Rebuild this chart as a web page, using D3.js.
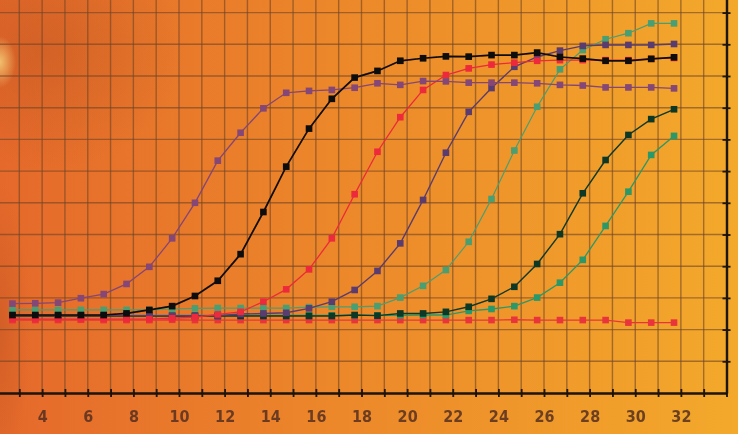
<!DOCTYPE html>
<html>
<head>
<meta charset="utf-8">
<script src="https://cdn.jsdelivr.net/npm/d3@7/dist/d3.min.js"></script>
<style>
  html, body { margin: 0; padding: 0; overflow: hidden; background: #ec862a; }
  .graph { width: 738px; height: 434px; }
</style>
</head>
<body>
<div class="graph"></div>
<script>
// cycle of each measured point (points sit a little left of the grid lines)
const cycles = [2.7, 3.7, 4.7, 5.7, 6.7, 7.7, 8.7, 9.7, 10.7, 11.7, 12.7, 13.7, 14.7, 15.7, 16.7,
  17.7, 18.7, 19.7, 20.7, 21.7, 22.7, 23.7, 24.7, 25.7, 26.7, 27.7, 28.7, 29.7, 30.7, 31.7]

// x tick labels
const xLabels = [4, 6, 8, 10, 12, 14, 16, 18, 20, 22, 24, 26, 28, 30, 32]

// fluorescence, in grid units
const flatRed = [2.30, 2.30, 2.30, 2.31, 2.30, 2.30, 2.30, 2.31, 2.30, 2.30, 2.30, 2.30, 2.30, 2.30, 2.30,
  2.30, 2.30, 2.30, 2.30, 2.30, 2.30, 2.30, 2.31, 2.30, 2.30, 2.30, 2.30, 2.22, 2.22, 2.22]
const green2 = [2.45, 2.45, 2.45, 2.45, 2.45, 2.45, 2.45, 2.45, 2.45, 2.45, 2.45, 2.45, 2.45, 2.45, 2.45,
  2.45, 2.45, 2.45, 2.46, 2.46, 2.59, 2.65, 2.74, 3.01, 3.48, 4.20, 5.27, 6.35, 7.51, 8.11]
const darkGreen = [2.43, 2.43, 2.43, 2.43, 2.43, 2.43, 2.43, 2.43, 2.43, 2.43, 2.43, 2.43, 2.43, 2.43, 2.43,
  2.46, 2.44, 2.51, 2.51, 2.56, 2.72, 2.97, 3.35, 4.07, 5.01, 6.30, 7.35, 8.14, 8.64, 8.95]
const lightGreen = [2.62, 2.62, 2.62, 2.62, 2.62, 2.62, 2.62, 2.65, 2.67, 2.68, 2.68, 2.68, 2.68, 2.71, 2.72,
  2.72, 2.74, 3.01, 3.38, 3.88, 4.77, 6.12, 7.65, 9.03, 10.21, 10.82, 11.16, 11.35, 11.66, 11.66]
const purple = [2.44, 2.44, 2.44, 2.44, 2.44, 2.44, 2.44, 2.44, 2.44, 2.44, 2.49, 2.51, 2.53, 2.67, 2.88,
  3.25, 3.85, 4.72, 6.09, 7.58, 8.87, 9.62, 10.29, 10.60, 10.80, 10.95, 10.98, 10.98, 10.98, 11.01]
const red = [2.33, 2.33, 2.33, 2.33, 2.33, 2.33, 2.33, 2.36, 2.39, 2.48, 2.56, 2.88, 3.27, 3.90, 4.88,
  6.27, 7.61, 8.70, 9.56, 10.03, 10.24, 10.36, 10.42, 10.48, 10.50, 10.50, 10.50, 10.50, 10.54, 10.57]
const mauve = [2.82, 2.83, 2.85, 2.99, 3.12, 3.44, 3.98, 4.88, 6.00, 7.33, 8.21, 8.98, 9.47, 9.53, 9.56,
  9.63, 9.77, 9.72, 9.84, 9.83, 9.79, 9.79, 9.79, 9.77, 9.72, 9.70, 9.64, 9.64, 9.64, 9.61]
const black = [2.46, 2.46, 2.46, 2.46, 2.46, 2.51, 2.62, 2.74, 3.06, 3.54, 4.38, 5.71, 7.14, 8.34, 9.28,
  9.95, 10.16, 10.48, 10.56, 10.62, 10.61, 10.66, 10.66, 10.74, 10.60, 10.55, 10.48, 10.48, 10.54, 10.59]

// drawing order: last one ends on top
const seriesList = [
  { name: 'flatRed', values: flatRed, color: '#e8363a', w: 1.3 },
  { name: 'green2', values: green2, color: '#2a9868', w: 1.3 },
  { name: 'darkGreen', values: darkGreen, color: '#0c3828', w: 1.4 },
  { name: 'lightGreen', values: lightGreen, color: '#4a9e72', w: 1.2 },
  { name: 'purple', values: purple, color: '#5a3c6e', w: 1.4 },
  { name: 'red', values: red, color: '#ec2a3a', w: 1.3 },
  { name: 'mauve', values: mauve, color: '#844676', w: 1.3 },
  { name: 'black', values: black, color: '#0a0a0a', w: 1.7 },
]

const BaseData = {
  width: 738,
  height: 434,
  svg: null,
  x: null,
  y: null,
}

// scales: plot runs off the left and top edges
BaseData.x = d3.scaleLinear().domain([2, 34]).range([-3.5, 726.5])
BaseData.y = d3.scaleLinear().domain([0, 13]).range([393, -19.1])

function drawBackground(svg) {
  const defs = svg.append('defs')
  const lg = defs.append('linearGradient').attr('id', 'bg')
  lg.append('stop').attr('offset', '0').attr('stop-color', '#e5692b')
  lg.append('stop').attr('offset', '0.45').attr('stop-color', '#ec872a')
  lg.append('stop').attr('offset', '1').attr('stop-color', '#f3a92b')

  const blob = defs.append('radialGradient').attr('id', 'blob')
  blob.append('stop').attr('offset', '0').attr('stop-color', '#a8461c').attr('stop-opacity', 0.3)
  blob.append('stop').attr('offset', '1').attr('stop-color', '#a8461c').attr('stop-opacity', 0)

  const spot = defs.append('radialGradient').attr('id', 'spot')
  spot.append('stop').attr('offset', '0').attr('stop-color', '#f6d07a').attr('stop-opacity', 0.85)
  spot.append('stop').attr('offset', '1').attr('stop-color', '#f6d07a').attr('stop-opacity', 0)

  const soft = defs.append('filter').attr('id', 'soft')
  soft.append('feGaussianBlur').attr('stdDeviation', 0.5)

  svg.append('rect').attr('width', BaseData.width).attr('height', BaseData.height).attr('fill', 'url(#bg)')
  svg.append('ellipse').attr('cx', 45).attr('cy', 50).attr('rx', 140).attr('ry', 120).attr('fill', 'url(#blob)')
  svg.append('ellipse').attr('cx', 0).attr('cy', 330).attr('rx', 30).attr('ry', 150).attr('fill', 'url(#blob)')
  svg.append('ellipse').attr('cx', 0).attr('cy', 62).attr('rx', 16).attr('ry', 26).attr('fill', 'url(#spot)')
}

function drawGrid(g) {
  const { x, y } = BaseData
  g.append('g').selectAll('line')
    .data(d3.range(3, 34))
    .join('line')
    .attr('x1', d => x(d)).attr('x2', d => x(d))
    .attr('y1', y(13)).attr('y2', y(0))
    .attr('stroke', '#6e4426').attr('stroke-opacity', 0.6).attr('stroke-width', 1.4)
  g.append('g').selectAll('line')
    .data(d3.range(1, 13))
    .join('line')
    .attr('x1', 0).attr('x2', x(34))
    .attr('y1', d => y(d)).attr('y2', d => y(d))
    .attr('stroke', '#6e4426').attr('stroke-opacity', 0.6).attr('stroke-width', 1.4)
}

function drawAxes(g) {
  const { x, y } = BaseData
  const bottom = g.append('g')
    .attr('transform', `translate(0,${y(0)})`)
    .call(d3.axisBottom(x)
      .tickValues(d3.range(3, 35))
      .tickSize(4).tickSizeOuter(0).tickPadding(14)
      .tickFormat(d => xLabels.includes(d) ? d : ''))
  bottom.select('.domain').attr('stroke', '#1a120c').attr('stroke-width', 2.4)
  bottom.selectAll('.tick line').attr('y1', -4).attr('y2', 4).attr('stroke', '#1a120c').attr('stroke-width', 1.8)
  bottom.selectAll('.tick text')
    .attr('fill', '#553020').attr('fill-opacity', 0.85)
    .style('font-family', '"DejaVu Sans Condensed", "Liberation Sans Narrow", sans-serif')
    .style('font-weight', 'bold').style('font-size', '16px')

  const right = g.append('g')
    .attr('transform', `translate(${x(34)},0)`)
    .call(d3.axisRight(y).tickValues(d3.range(1, 14)).tickSize(4).tickSizeOuter(0).tickFormat(''))
  right.select('.domain').attr('stroke', '#1a120c').attr('stroke-width', 2.4)
  right.selectAll('.tick line').attr('x1', -4).attr('x2', 4).attr('stroke', '#1a120c').attr('stroke-width', 1.8)
}

function drawSeries(g) {
  const { x, y } = BaseData
  const line = d3.line().x((d, i) => x(cycles[i])).y(d => y(d))
  const groups = g.selectAll('g.series')
    .data(seriesList)
    .join('g')
    .attr('class', 'series')
  //连线
  groups.append('path')
    .attr('d', d => line(d.values))
    .attr('fill', 'none')
    .attr('stroke', d => d.color)
    .attr('stroke-width', d => d.w)
  //方块点
  groups.selectAll('rect')
    .data(d => d.values.map((v, i) => ({ c: cycles[i], v, color: d.color })))
    .join('rect')
    .attr('x', d => x(d.c) - 3.3)
    .attr('y', d => y(d.v) - 3.3)
    .attr('width', 6.6).attr('height', 6.6)
    .attr('fill', d => d.color)
}

function draw() {
  BaseData.svg = d3.select('.graph')
    .append('svg')
    .attr('width', BaseData.width)
    .attr('height', BaseData.height)
  drawBackground(BaseData.svg)
  const chart = BaseData.svg.append('g').attr('filter', 'url(#soft)')
  drawGrid(chart)
  drawAxes(chart)
  drawSeries(chart)
}

draw()
</script>
</body>
</html>
